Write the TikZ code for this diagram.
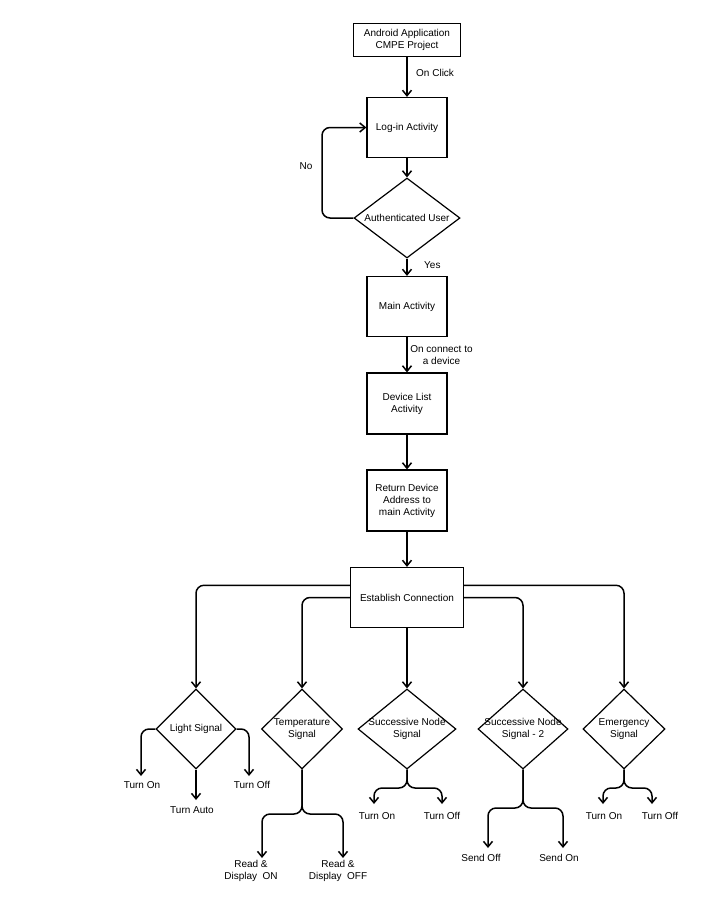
\documentclass[tikz,border=0pt]{standalone}
\usepackage{fontspec}
\setmainfont{Liberation Sans}
\usetikzlibrary{arrows.meta,shapes.geometric,calc}
\begin{document}
\begin{tikzpicture}[x=1pt,y=-1pt,
  font=\fontsize{10}{12}\selectfont,
  box/.style={draw, line width=1.2pt, minimum width=80pt, minimum height=61pt, align=center, inner sep=2pt},
  dia/.style={draw, diamond, line width=1.2pt, inner sep=0pt, minimum height=80pt},
  txt/.style={align=center, inner sep=0pt},
  arr/.style={line width=1.5pt, -{Straight Barb[length=5.5pt,width=9pt]}, rounded corners=8pt}]
\useasboundingbox (0,0) rectangle (711,898);
% main column
\node[box, minimum width=107pt, minimum height=33pt] (top) at (407,40) {Android Application\\CMPE Project};
\node[box, minimum height=60pt] (login) at (407,127.5) {Log-in Activity};
\node[dia, minimum width=106pt] (auth) at (407,218) {};
\node[txt] (autht) at (auth.center) {Authenticated User};
\node[box, minimum height=60pt] (main) at (407,306.5) {Main Activity};
\node[box] (dev) at (407,403.5) {Device List\\Activity};
\node[box] (ret) at (407,500.5) {Return Device\\Address to\\main Activity};
\node[box, minimum width=113pt, minimum height=60pt] (est) at (407,597.5) {Establish Connection};
% diamonds
\node[dia, minimum width=80pt] (light) at (196,729) {};
\node[txt] (lightt) at (light.center) {Light Signal};
\node[dia, minimum width=81pt] (temp) at (302,729) {};
\node[txt] (tempt) at (temp.center) {Temperature\\Signal};
\node[dia, minimum width=98pt] (succ) at (407,729) {};
\node[txt] (succt) at (succ.center) {Successive Node\\Signal};
\node[dia, minimum width=90pt] (succb) at (523,729) {};
\node[txt] (succbt) at (succb.center) {Successive Node\\Signal - 2};
\node[dia, minimum width=82pt] (emerg) at (624,729) {};
\node[txt] (emergt) at (emerg.center) {Emergency\\Signal};
% main connectors
\draw[arr] (top) -- (login);
\node[txt, anchor=west] (lclick) at (416,73) {On Click};
\draw[arr] (login) -- (auth);
\coordinate (loopc) at (322,218);
\draw[arr] (auth.west) -- (loopc) |- (login.west);
\node[txt] (lno) at (306,166) {No};
\draw[arr] (auth) -- (main);
\node[txt, anchor=west] (lyes) at (424,265) {Yes};
\draw[arr] (main) -- (dev);
\node[txt] (lconn) at (441.5,355.5) {On connect to\\a device};
\draw[arr] (dev) -- (ret);
\draw[arr] (ret) -- (est);
% branches
\draw[arr] ($(est.north west)!0.3!(est.south west)$) -| (light.north);
\draw[arr] (est.west) -| (temp.north);
\draw[arr] (est.south) -- (succ.north);
\draw[arr] (est.east) -| (succb.north);
\draw[arr] ($(est.north east)!0.3!(est.south east)$) -| (emerg.north);
% light
\coordinate (l1) at (141,776);
\coordinate (l2) at (249,776);
\coordinate (l3) at (196,800);
\draw[arr] (light.west) -| (l1);
\draw[arr] (light.east) -| (l2);
\draw[arr] (light.south) -- (l3);
\node[txt] (lon) at (142,785) {Turn On};
\node[txt] (loff) at (252,785) {Turn Off};
\node[txt] (lauto) at (192,810) {Turn Auto};
% temperature
\coordinate (tj) at (302,814);
\coordinate (t1) at (262,858);
\coordinate (t2) at (343,858);
\draw[arr] (temp.south) -- (tj) -| (t1);
\draw[arr] (temp.south) -- (tj) -| (t2);
\node[txt] (ton) at (251,870.5) {Read \&\\Display\ \ ON};
\node[txt] (toff) at (338,870.5) {Read \&\\Display\ \ OFF};
% successive
\coordinate (sj) at (407,788);
\coordinate (s1) at (374,804);
\coordinate (s2) at (442,804);
\draw[arr] (succ.south) -- (sj) -| (s1);
\draw[arr] (succ.south) -- (sj) -| (s2);
\node[txt] (son) at (377,816) {Turn On};
\node[txt] (soff) at (442,816) {Turn Off};
% successive 2
\coordinate (qj) at (523,808);
\coordinate (q1) at (488,848);
\coordinate (q2) at (563,848);
\draw[arr] (succb.south) -- (qj) -| (q1);
\draw[arr] (succb.south) -- (qj) -| (q2);
\node[txt] (qoff) at (481,858) {Send Off};
\node[txt] (qon) at (559,858) {Send On};
% emergency
\coordinate (ej) at (624,788);
\coordinate (e1) at (603,804);
\coordinate (e2) at (652,804);
\draw[arr] (emerg.south) -- (ej) -| (e1);
\draw[arr] (emerg.south) -- (ej) -| (e2);
\node[txt] (eon) at (604,816) {Turn On};
\node[txt] (eoff) at (660,816) {Turn Off};
\end{tikzpicture}
\end{document}
